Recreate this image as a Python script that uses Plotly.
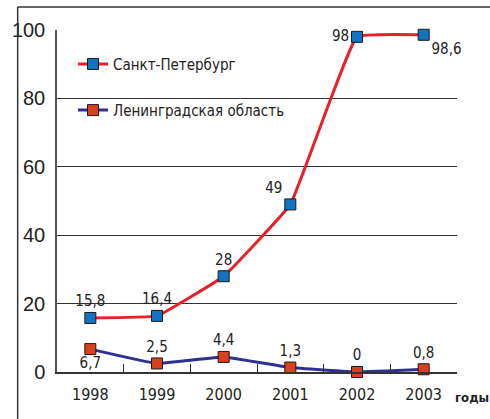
import plotly.graph_objects as go

years = ["1998", "1999", "2000", "2001", "2002", "2003"]
spb = [15.8, 16.4, 28, 49, 98, 98.6]
lo = [6.7, 2.5, 4.4, 1.3, 0, 0.8]
y_ticks = [0, 20, 40, 60, 80, 100]

spb_pos = ["top center", "top center", "top center", "top left", "middle left", "bottom right"]
lo_pos = ["bottom center", "top center", "top center", "top center", "top center", "top center"]


def fmt(v):
    return f"{v:g}".replace(".", ",")


NARROW = "Liberation Sans Narrow, DejaVu Sans Condensed, Arial Narrow, sans-serif"
INK = "#222222"

fig = go.Figure()
fig.add_trace(go.Scatter(
    x=years, y=spb, name="Санкт-Петербург", mode="lines+markers+text",
    line=dict(color="#e8202a", width=3, shape="spline", smoothing=0.25),
    marker=dict(symbol="square", size=11, color="#1273c2",
                line=dict(color="#1a1a1a", width=1)),
    text=[fmt(v) for v in spb], textposition=spb_pos,
    textfont=dict(family=NARROW, size=15, color=INK),
    cliponaxis=False, legend="legend", showlegend=True,
))
fig.add_trace(go.Scatter(
    x=years, y=lo, name="Ленинградская область", mode="lines+markers+text",
    line=dict(color="#2e3192", width=3, shape="spline", smoothing=0.25),
    marker=dict(symbol="square", size=11, color="#d8401f",
                line=dict(color="#1a1a1a", width=1)),
    text=[fmt(v) for v in lo], textposition=lo_pos,
    textfont=dict(family=NARROW, size=15, color=INK),
    cliponaxis=False, legend="legend2", showlegend=True,
))

leg_common = dict(
    xanchor="left", yanchor="middle", bgcolor="rgba(0,0,0,0)",
    font=dict(family=NARROW, size=15, color=INK), visible=True,
)
fig.update_layout(
    width=490, height=419,
    margin=dict(l=50, r=33, t=30, b=47),
    paper_bgcolor="white", plot_bgcolor="white",
    showlegend=True,
    legend=dict(x=0.04, y=0.90, **leg_common),
    legend2=dict(x=0.04, y=0.765, **leg_common),
    xaxis=dict(
        type="category", range=[-0.5, 5.5], tickson="boundaries",
        ticks="inside", ticklen=8, tickcolor="#333", tickwidth=1,
        showline=True, linecolor="#333", linewidth=1.5,
        showgrid=False, zeroline=False,
        tickfont=dict(family=NARROW, size=16, color=INK),
        ticklabelstandoff=7,
    ),
    yaxis=dict(
        range=[0, 100], tickvals=y_ticks,
        showline=True, linecolor="#555", linewidth=1.5,
        showgrid=True, gridcolor="#333", gridwidth=1,
        zeroline=False, ticks="",
        tickfont=dict(family="Liberation Sans, Arial, sans-serif", size=20, color=INK),
        ticklabelstandoff=6,
    ),
    annotations=[dict(
        text="<b>годы</b>", xref="paper", yref="paper", x=1.037, y=-0.076,
        xanchor="center", yanchor="middle", showarrow=False,
        font=dict(family=NARROW, size=13, color=INK),
    )],
    shapes=[
        dict(type="line", xref="paper", yref="paper", x0=-0.0983, x1=-0.0983,
             y0=-0.14, y1=1.067, line=dict(color="#333", width=1.5)),
        dict(type="line", xref="paper", yref="paper", x0=-0.0983, x1=1.09,
             y0=1.067, y1=1.067, line=dict(color="#333", width=1.5)),
    ],
)

fig.write_html("out.html")
